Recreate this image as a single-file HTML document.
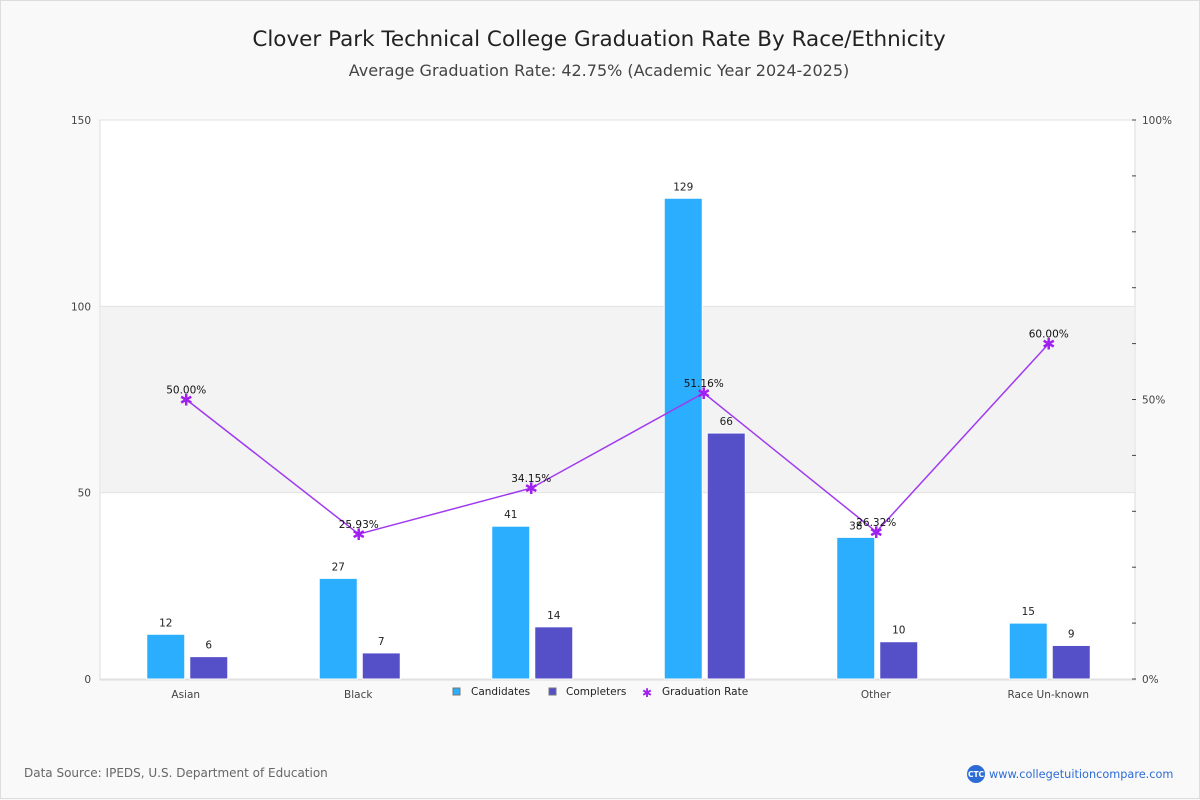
<!DOCTYPE html>
<html><head><meta charset="utf-8"><style>
html,body{margin:0;padding:0;background:#f9f9f9;}
svg{display:block;font-family:"DejaVu Sans","Liberation Sans",sans-serif;}
</style></head><body>
<svg id="c" width="1200" height="800">
<rect x="0.5" y="0.5" width="1199" height="798" fill="#f9f9f9" stroke="#ddd"/>
<text x="599" y="46" text-anchor="middle" font-size="21.5" fill="#222">Clover Park Technical College Graduation Rate By Race/Ethnicity</text>
<text x="599" y="76" text-anchor="middle" font-size="16" fill="#444">Average Graduation Rate: 42.75% (Academic Year 2024-2025)</text>
<rect x="100" y="120" width="1035" height="560" fill="#fff" stroke="#ddd"/>
<g id="g"></g>
<text x="24" y="777" font-size="12" fill="#666">Data Source: IPEDS, U.S. Department of Education</text>
<circle cx="976" cy="774" r="9" fill="#2d6bd6"/>
<text x="976" y="777" text-anchor="middle" font-size="7.5" fill="#fff" font-weight="bold">CTC</text>
<text x="989" y="778" font-size="11.3" fill="#2d6bd6">www.collegetuitioncompare.com</text>
</svg>
<script>
const categories=["Asian","Black","Hispanic","White","Other","Race Un-known"];
const candidates=[12,27,41,129,38,15];
const completers=[6,7,14,66,10,9];
const rates=[50.00,25.93,34.15,51.16,26.32,60.00];
const leftTicks=[0,50,100,150];
const rightTicks=[0,50,100];
const NS="http://www.w3.org/2000/svg";
const g=document.getElementById('g');
const X0=100,W=1035,Y0=679,H=559;
const yL=v=>Y0-v/150*H, yR=v=>Y0-v/100*H, xc=i=>X0+W/6*(i+0.5);
function el(t,a,txt){const e=document.createElementNS(NS,t);for(const k in a)e.setAttribute(k,a[k]);if(txt!==undefined)e.textContent=txt;g.appendChild(e);return e;}
let e=el('rect',{x:X0+1,y:yL(100),width:W-2,height:yL(50)-yL(100),fill:'#f3f3f3'});


leftTicks.forEach(v=>{
 let l=el('line',{x1:X0,x2:X0+W,y1:yL(v),y2:yL(v),stroke:'#e2e2e2'});
 
 
 let t=el('text',{x:91,y:yL(v)+4,'text-anchor':'end','font-size':10.5,fill:'#444'},v);
 
 
});
for(let v=0;v<=100;v+=10){
 let l=el('line',{x1:1132,x2:1136,y1:yR(v),y2:yR(v),stroke:'#444'});
 
 
}
rightTicks.forEach(v=>{
 let t=el('text',{x:1142,y:yR(v)+4,'font-size':10.5,fill:'#444'},v+'%');
 
 
});
categories.forEach((c,i)=>{
 const cx=xc(i)-0.5;
 let b=el('rect',{x:cx-39,y:yL(candidates[i]),width:38,height:Y0-yL(candidates[i]),fill:'#2aaefd',stroke:'#fff','stroke-width':1});
 
 
 let b2=el('rect',{x:cx+4,y:yL(completers[i]),width:38,height:Y0-yL(completers[i]),fill:'#554fc8',stroke:'#fff','stroke-width':1});
 
 
 let t1=el('text',{x:cx-20,y:yL(candidates[i])-8,'text-anchor':'middle','font-size':10.5,fill:'#222'},candidates[i]);
 
 
 let t2=el('text',{x:cx+23,y:yL(completers[i])-8,'text-anchor':'middle','font-size':10.5,fill:'#222'},completers[i]);
 
 
 let xl=el('text',{x:cx,y:698,'text-anchor':'middle','font-size':10.5,fill:'#444'},c);
 
 
});
let pl=el('polyline',{points:rates.map((r,i)=>xc(i)+','+yR(r)).join(' '),fill:'none',stroke:'#a03af0','stroke-width':1.5});


rates.forEach((r,i)=>{
 const x=xc(i),y=yR(r);
 let m=el('text',{x:x,y:y+6,'text-anchor':'middle','font-size':16,fill:'#a020f0','font-weight':'bold'},'✱');
 
 
 let t=el('text',{x:x,y:y-6,'text-anchor':'middle','font-size':10.5,fill:'#111'},r.toFixed(2)+'%');
 
 
});
let lb=el('rect',{x:446,y:681,width:310,height:28,fill:'#f9f9f9'});


let s1=el('rect',{x:453,y:688,width:7,height:7,fill:'#2aaefd',stroke:'#777'});


let l1=el('text',{x:471,y:695,'font-size':10.5,fill:'#222'},'Candidates');


let s2=el('rect',{x:549,y:688,width:7,height:7,fill:'#554fc8',stroke:'#777'});


let l2=el('text',{x:566,y:695,'font-size':10.5,fill:'#222'},'Completers');


let s3=el('text',{x:647,y:697,'text-anchor':'middle','font-size':12,fill:'#a020f0','font-weight':'bold'},'✱');


let l3=el('text',{x:662,y:695,'font-size':10.5,fill:'#222'},'Graduation Rate');


</script>
</body></html>
